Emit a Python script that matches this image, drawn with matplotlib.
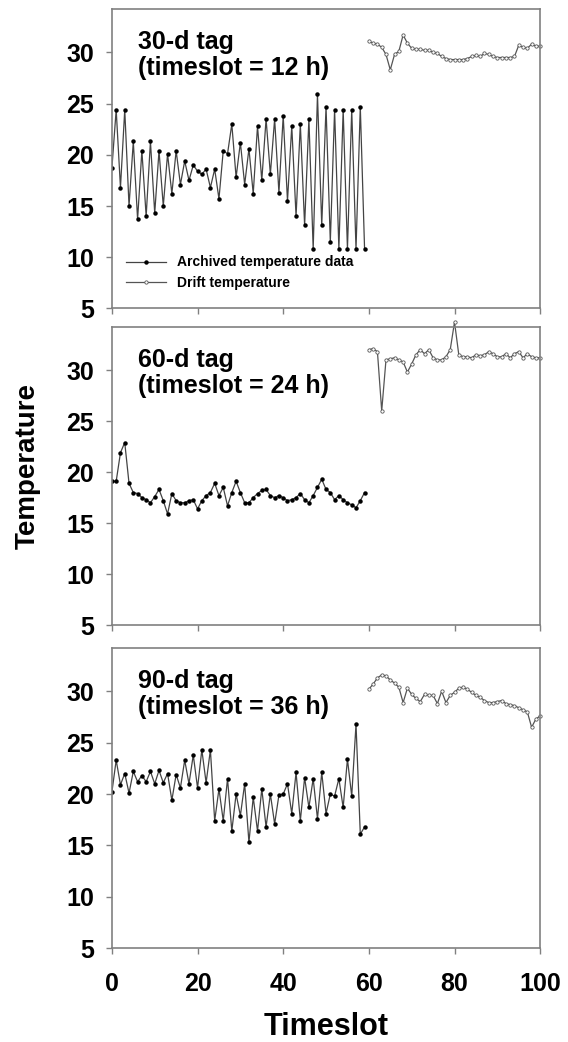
import numpy as np
import matplotlib
matplotlib.use('Agg')
import matplotlib.pyplot as plt

plt.rcParams['font.family'] = ['Liberation Sans', 'DejaVu Sans']
plt.rcParams['font.weight'] = 'bold'

# archived temperature data, timeslots 0..59
t_arch = np.arange(0, 60)
arch_30 = [18.7, 24.4, 16.8, 24.4, 15.0, 21.3, 13.7, 20.4, 14.0, 21.3,
           14.3, 20.4, 15.0, 20.1, 16.2, 20.4, 17.1, 19.4, 17.5, 19.0,
           18.4, 18.1, 18.6, 16.8, 18.6, 15.7, 20.4, 20.1, 23.0, 17.8,
           21.2, 17.1, 20.6, 16.2, 22.8, 17.5, 23.5, 18.1, 23.5, 16.3,
           23.8, 15.5, 22.8, 14.0, 23.0, 13.1, 23.5, 10.8, 25.9, 13.1,
           24.7, 11.5, 24.4, 10.8, 24.4, 10.8, 24.4, 10.8, 24.7, 10.8]
arch_60 = [19.1, 19.1, 21.9, 22.9, 18.9, 18.0, 17.9, 17.5, 17.3, 17.0,
           17.6, 18.3, 17.2, 15.9, 17.9, 17.2, 17.0, 17.0, 17.2, 17.3,
           16.4, 17.2, 17.7, 18.0, 18.9, 17.7, 18.5, 16.7, 18.0, 19.1,
           18.0, 17.0, 17.0, 17.5, 17.9, 18.2, 18.3, 17.7, 17.5, 17.7,
           17.5, 17.2, 17.3, 17.5, 17.9, 17.3, 17.0, 17.7, 18.5, 19.3,
           18.3, 18.0, 17.3, 17.7, 17.3, 17.0, 16.8, 16.5, 17.2, 18.0]
arch_90 = [20.2, 23.3, 20.9, 22.0, 20.1, 22.2, 21.2, 21.8, 21.2, 22.2,
           21.0, 22.3, 21.1, 22.0, 19.4, 21.9, 20.6, 23.3, 21.0, 23.8,
           20.6, 24.3, 21.1, 24.3, 17.4, 20.5, 17.4, 21.5, 16.4, 20.0,
           17.9, 21.0, 15.3, 19.7, 16.4, 20.5, 16.8, 20.0, 17.1, 19.9,
           20.0, 21.0, 18.1, 22.1, 17.4, 21.6, 18.7, 21.5, 17.6, 22.1,
           18.1, 20.0, 19.8, 21.5, 18.7, 23.4, 19.8, 26.8, 16.1, 16.8]

# drift temperature, timeslots 60..100
t_drift = np.arange(60, 101)
drift_30 = [31.1, 30.9, 30.8, 30.5, 29.8, 28.3, 29.8, 30.1, 31.7, 30.9,
            30.4, 30.3, 30.3, 30.2, 30.2, 30.0, 29.9, 29.6, 29.4, 29.3,
            29.3, 29.3, 29.3, 29.4, 29.6, 29.7, 29.6, 29.9, 29.8, 29.6,
            29.5, 29.5, 29.5, 29.5, 29.6, 30.7, 30.5, 30.4, 30.8, 30.6,
            30.6]
drift_60 = [32.0, 32.1, 31.8, 26.0, 31.0, 31.1, 31.2, 31.0, 30.8, 29.8,
            30.6, 31.5, 32.0, 31.6, 32.0, 31.2, 31.0, 31.0, 31.3, 32.0,
            34.7, 31.5, 31.3, 31.3, 31.2, 31.5, 31.4, 31.5, 31.8, 31.6,
            31.3, 31.3, 31.6, 31.2, 31.6, 31.8, 31.2, 31.6, 31.3, 31.2,
            31.2]
drift_90 = [30.2, 30.7, 31.3, 31.6, 31.5, 31.1, 30.8, 30.4, 28.9, 30.3,
            29.7, 29.3, 29.0, 29.7, 29.6, 29.6, 28.8, 30.0, 28.9, 29.6,
            29.9, 30.3, 30.4, 30.2, 29.9, 29.6, 29.4, 29.1, 28.9, 28.9,
            29.0, 29.1, 28.8, 28.7, 28.6, 28.4, 28.2, 28.0, 26.5, 27.3,
            27.6]

panels = [('30-d tag\n(timeslot = 12 h)', arch_30, drift_30),
          ('60-d tag\n(timeslot = 24 h)', arch_60, drift_60),
          ('90-d tag\n(timeslot = 36 h)', arch_90, drift_90)]

fig = plt.figure(figsize=(5.68, 10.42), dpi=100)
boxes = [(0.991, 0.704), (0.686, 0.400), (0.378, 0.090)]
left, right = 0.197, 0.951

for i, ((label, arch, drift), (top, bot)) in enumerate(zip(panels, boxes)):
    ax = fig.add_axes([left, bot, right - left, top - bot])
    ax.plot(t_arch, arch, color='#444444', lw=0.9, marker='o', ms=2.2,
            mfc='black', mec='black', label='Archived temperature data')
    ax.plot(t_drift, drift, color='#555555', lw=0.9, marker='o', ms=2.4,
            mfc='white', mec='#555555', mew=0.6, label='Drift temperature',
            clip_on=False)
    ax.set_xlim(0, 100)
    ax.set_ylim(5, 34.2)
    ax.set_xticks([0, 20, 40, 60, 80, 100])
    ax.set_yticks([5, 10, 15, 20, 25, 30])
    for sp in ax.spines.values():
        sp.set_color('#808080')
        sp.set_linewidth(1.2)
    ax.tick_params(direction='out', length=4, width=1, color='#808080',
                   labelsize=18, pad=9)
    if i < 2:
        ax.tick_params(axis='x', labelbottom=False)
    else:
        ax.tick_params(axis='x', pad=13)
    ax.text(0.06, 0.93, label, transform=ax.transAxes, va='top', ha='left',
            fontsize=18, fontweight='bold', linespacing=1.1)
    if i == 0:
        ax.legend(loc='lower left', bbox_to_anchor=(0.01, 0.03), frameon=False,
                  fontsize=10, handlelength=2.9, borderaxespad=0.3,
                  labelspacing=0.45)
    if i == 2:
        ax.set_xlabel('Timeslot', fontsize=22, fontweight='bold', labelpad=12)

fig.text(0.048, 0.553, 'Temperature', rotation=90, fontsize=20,
         fontweight='bold', ha='center', va='center')

fig.savefig('out.png', dpi=100)
